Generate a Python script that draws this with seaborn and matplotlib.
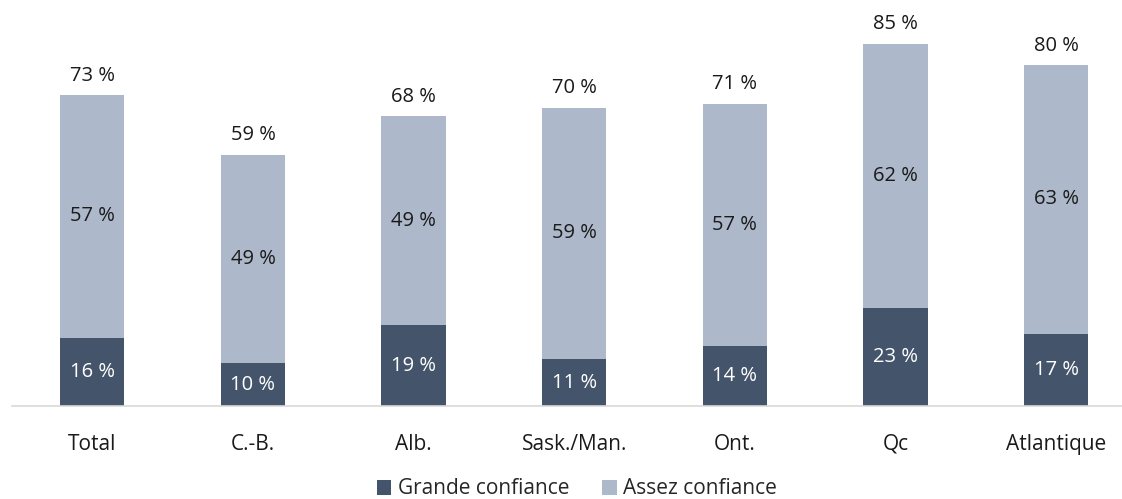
import matplotlib
matplotlib.use("Agg")
import matplotlib.pyplot as plt
import seaborn as sns
import pandas as pd
from matplotlib.patches import Patch

categories = ["Total", "C.-B.", "Alb.", "Sask./Man.", "Ont.", "Qc", "Atlantique"]
grande = [16, 10, 19, 11, 14, 23, 17]
assez = [57, 49, 49, 59, 57, 62, 63]
totals = [73, 59, 68, 70, 71, 85, 80]
series_names = ["Grande confiance", "Assez confiance"]

DARK = "#44546A"
LIGHT = "#ADB9CA"

sns.set_theme(style="white")
plt.rcParams["font.family"] = ["Open Sans", "DejaVu Sans"]

df = pd.DataFrame({"cat": categories, "grande": grande, "assez": assez, "total": totals})

fig = plt.figure(figsize=(11.22, 4.99), dpi=100)
ax = fig.add_axes([12 / 1122, (499 - 406) / 499, 1110 / 1122, 386 / 499])

sns.barplot(data=df, x="cat", y="total", color=LIGHT, width=0.4, ax=ax, saturation=1, linewidth=0)
sns.barplot(data=df, x="cat", y="grande", color=DARK, width=0.4, ax=ax, saturation=1, linewidth=0)

ax.set_xlim(-0.5, 6.41)
ax.set_ylim(0, 90.6)
ax.set_xlabel("")
ax.set_ylabel("")
ax.set_yticks([])
for s in ["top", "right", "left"]:
    ax.spines[s].set_visible(False)
ax.spines["bottom"].set_color("#D9D9D9")
ax.spines["bottom"].set_linewidth(1.2)
ax.tick_params(axis="x", length=0, pad=20, labelsize=15, labelcolor="#1a1a1a")

fs = 14.5
for i in range(len(categories)):
    g = grande[i]
    a = assez[i]
    t = totals[i]
    ax.text(i, g / 2, f"{g} %", ha="center", va="center", color="white", fontsize=fs)
    ax.text(i, g + a / 2, f"{a} %", ha="center", va="center", color="#1a1a1a", fontsize=fs)
    ax.text(i, t + 2.2, f"{t} %", ha="center", va="bottom", color="#1a1a1a", fontsize=fs)

handles = [Patch(facecolor=DARK, edgecolor="none"), Patch(facecolor=LIGHT, edgecolor="none")]
fig.legend(handles, series_names, loc="center", bbox_to_anchor=(577 / 1122, 1 - 489 / 499),
           ncol=2, frameon=False, fontsize=15, handlelength=0.7, handleheight=0.7,
           handletextpad=0.3, columnspacing=1.6)

fig.savefig("out.png", dpi=100)
